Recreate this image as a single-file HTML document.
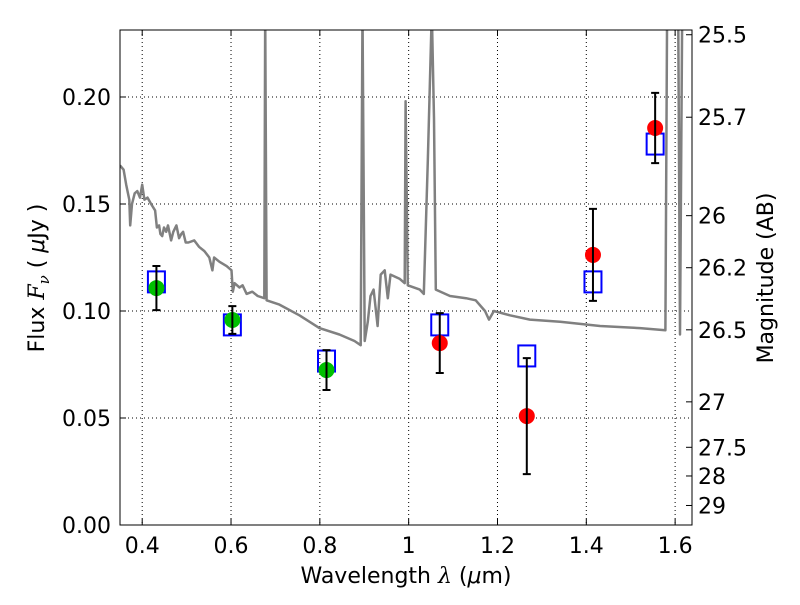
<!DOCTYPE html>
<html><head><meta charset="utf-8"><style>
body{margin:0;background:#fff;}
svg text{font-family:"DejaVu Sans","Liberation Sans",sans-serif;fill:#000;}
</style></head><body>
<svg id="chart" width="800" height="600">
<defs><clipPath id="clip"><rect x="120" y="30" width="572" height="495"/></clipPath></defs>
<g id="grid"></g>
<g id="spec" clip-path="url(#clip)"></g>
<g id="pts"></g>
<rect x="120" y="30" width="572" height="495" fill="none" stroke="#000" stroke-width="1"/>
<g id="axes"></g>
<text x="406" y="583" font-size="22" text-anchor="middle">Wavelength  <tspan font-style="italic" font-family="DejaVu Serif,serif">λ</tspan> (<tspan font-style="italic">μ</tspan>m)</text>
<text transform="translate(44,278) rotate(-90)" font-size="22" text-anchor="middle">Flux  <tspan font-style="italic" font-family="DejaVu Serif,serif">F<tspan font-size="15" dy="5">ν</tspan></tspan><tspan dy="-5">  ( </tspan><tspan font-style="italic">μ</tspan>Jy )</text>
<text transform="translate(773,278) rotate(-90)" font-size="22" text-anchor="middle">Magnitude (AB)</text>
</svg>
<script>
const xTicks=[0.4,0.6,0.8,1.0,1.2,1.4,1.6];
const xTickLabels=["0.4","0.6","0.8","1","1.2","1.4","1.6"];
const yTicks=[0,0.05,0.10,0.15,0.20];
const yTickLabels=["0.00","0.05","0.10","0.15","0.20"];
const magTicks=[25.5,25.7,26,26.2,26.5,27,27.5,28,29];
const magLabels=["25.5","25.7","26","26.2","26.5","27","27.5","28","29"];
const specWave=[0.350,0.358,0.364,0.371,0.373,0.377,0.383,0.389,0.395,0.400,0.405,0.412,0.420,0.429,0.433,0.438,0.441,0.445,0.449,0.454,0.458,0.465,0.470,0.477,0.483,0.488,0.492,0.498,0.504,0.517,0.528,0.540,0.551,0.558,0.562,0.574,0.590,0.601,0.604,0.608,0.619,0.626,0.635,0.648,0.660,0.675,0.677,0.680,0.709,0.754,0.799,0.844,0.878,0.892,0.896,0.901,0.908,0.914,0.921,0.930,0.937,0.946,0.953,0.959,0.980,0.991,0.993,0.998,1.025,1.034,1.043,1.052,1.057,1.061,1.093,1.129,1.151,1.172,1.181,1.192,1.228,1.273,1.341,1.431,1.521,1.578,1.582,1.607,1.611,1.616];
const specFlux=[0.168,0.166,0.159,0.152,0.140,0.150,0.155,0.156,0.153,0.159,0.152,0.153,0.150,0.147,0.139,0.140,0.136,0.135,0.139,0.137,0.140,0.133,0.137,0.140,0.134,0.136,0.137,0.132,0.132,0.133,0.130,0.128,0.125,0.119,0.125,0.123,0.121,0.119,0.109,0.113,0.111,0.112,0.108,0.109,0.107,0.106,0.240,0.105,0.103,0.098,0.092,0.089,0.086,0.084,0.240,0.086,0.095,0.107,0.110,0.093,0.117,0.119,0.106,0.117,0.115,0.113,0.198,0.112,0.110,0.108,0.170,0.240,0.190,0.110,0.107,0.106,0.105,0.100,0.096,0.100,0.098,0.096,0.095,0.093,0.092,0.091,0.240,0.240,0.089,0.240];
const modelWave=[0.432,0.603,0.815,1.070,1.266,1.415,1.555];
const modelFlux=[0.1136,0.0935,0.0766,0.0935,0.079,0.1136,0.178];
const obsWave=[0.432,0.603,0.815,1.070,1.266,1.415,1.555];
const obsFlux=[0.1107,0.0958,0.0724,0.0850,0.0509,0.1262,0.1855];
const obsErr=[0.0103,0.0065,0.0093,0.014,0.0271,0.0215,0.0164];
const obsColor=["#00c000","#00c000","#00c000","#ff0000","#ff0000","#ff0000","#ff0000"];

const NS="http://www.w3.org/2000/svg";
const X0=120,X1=692,Y0=525,Y1=30,WMIN=0.35,WMAX=1.638,FMIN=0,FMAX=0.2313;
const sx=w=>X0+(w-WMIN)/(WMAX-WMIN)*(X1-X0);
const sy=f=>Y0-(f-FMIN)/(FMAX-FMIN)*(Y0-Y1);
function mk(tag,attrs,parent,text){const e=document.createElementNS(NS,tag);for(const k in attrs)e.setAttribute(k,attrs[k]);if(text!==undefined)e.textContent=text;parent.appendChild(e);return e;}
const grid=document.getElementById('grid'),axes=document.getElementById('axes'),spec=document.getElementById('spec'),pts=document.getElementById('pts');
xTicks.forEach((t,i)=>{const x=sx(t);
 const g=mk('line',{x1:x,x2:x,y1:Y1,y2:Y0,stroke:'#000','stroke-dasharray':'1,3','stroke-width':1},grid);
 
 mk('line',{x1:x,x2:x,y1:Y0,y2:Y0-6,stroke:'#000'},axes);mk('line',{x1:x,x2:x,y1:Y1,y2:Y1+6,stroke:'#000'},axes);
 const l=mk('text',{x:x,y:Y0+28,'font-size':22,'text-anchor':'middle'},axes,xTickLabels[i]);
 });
yTicks.forEach((t,i)=>{const y=sy(t);
 const g=mk('line',{x1:X0,x2:X1,y1:y,y2:y,stroke:'#000','stroke-dasharray':'1,3','stroke-width':1},grid);
 
 mk('line',{x1:X0,x2:X0+6,y1:y,y2:y,stroke:'#000'},axes);
 const l=mk('text',{x:X0-9,y:y+8,'font-size':22,'text-anchor':'end'},axes,yTickLabels[i]);
 });
magTicks.forEach((m,i)=>{const y=sy(Math.pow(10,(23.9-m)/2.5));
 mk('line',{x1:X1,x2:X1-6,y1:y,y2:y,stroke:'#000'},axes);
 const l=mk('text',{x:X1+6,y:y+8,'font-size':22},axes,magLabels[i]);
 });
const d=specWave.map((w,i)=>(i?'L':'M')+sx(w).toFixed(1)+','+sy(specFlux[i]).toFixed(1)).join(' ');
const sp=mk('path',{d:d,fill:'none',stroke:'#808080','stroke-width':2.5,'stroke-linejoin':'round'},spec);

modelWave.forEach((w,i)=>{const x=sx(w),y=sy(modelFlux[i]);
 const r=mk('rect',{x:x-8.5,y:y-10.5,width:17,height:21,fill:'none',stroke:'#0000ff','stroke-width':2},pts);
 });
obsWave.forEach((w,i)=>{const x=sx(w),y=sy(obsFlux[i]);
 const c=mk('circle',{cx:x,cy:y,r:8,fill:obsColor[i]},pts);
 
});
obsWave.forEach((w,i)=>{const x=sx(w),yt=sy(obsFlux[i]+obsErr[i]),yb=sy(obsFlux[i]-obsErr[i]);
 const e=mk('path',{d:`M${x},${yt}L${x},${yb}M${x-4},${yt}L${x+4},${yt}M${x-4},${yb}L${x+4},${yb}`,stroke:'#000','stroke-width':2,fill:'none'},pts);
 });
</script>
</body></html>
